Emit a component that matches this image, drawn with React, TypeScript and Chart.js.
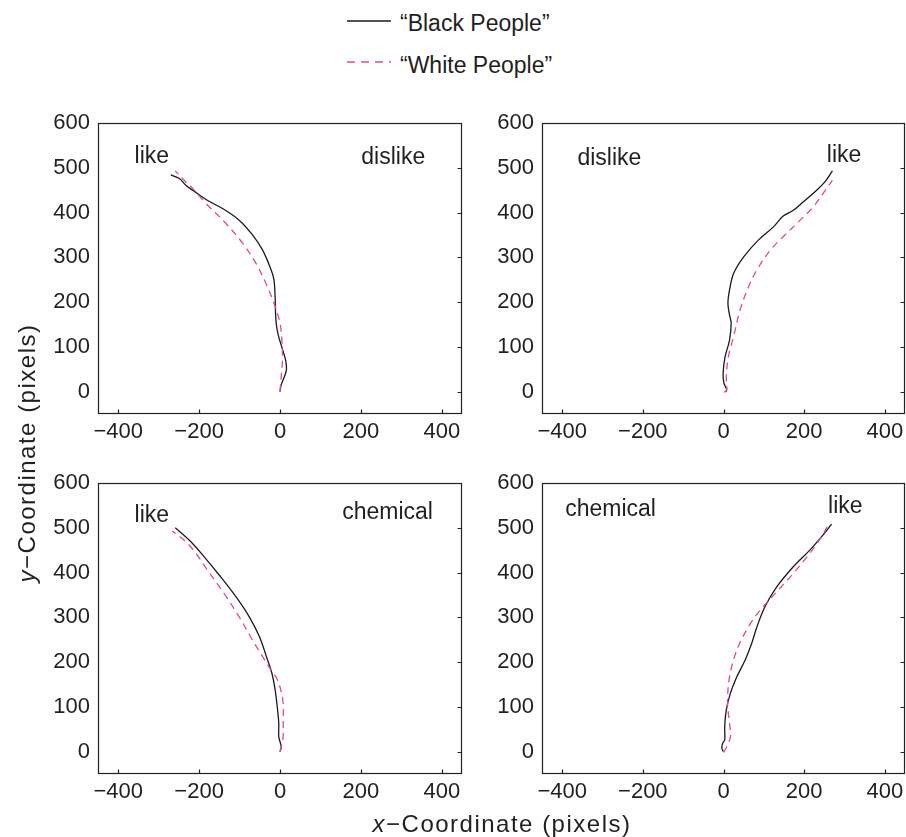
import React, { useEffect, useRef } from "react";
import { Chart, registerables } from "chart.js";

Chart.register(...registerables);

const FONT = '"Liberation Sans", Arial, Helvetica, sans-serif';
const TEXT = "#231f20";
const BLACK_LINE = "#1a1a1a";
const PINK_LINE = "#e2489c";

const seriesNames = ["\u201cBlack People\u201d", "\u201cWhite People\u201d"];
const xTickValues = [-400, -200, 0, 200, 400];
const yTickValues = [0, 100, 200, 300, 400, 500, 600];
const xRange = [-450, 450];
const yRange = [-50, 600];

// Panel 1: like (left) / dislike (right)
const p1BlackX = [0, 3, 12, 16, 14, 6, -4, -9, -11, -12, -15, -22, -43, -68, -101, -142, -183, -216, -233, -249, -270];
const p1BlackY = [0, 15, 36, 50, 70, 95, 125, 150, 175, 210, 250, 272, 316, 350, 383, 409, 429, 450, 461, 476, 484];
const p1WhiteX = [0, 3, 6, 5, 0, -12, -31, -59, -92, -134, -183, -216, -237, -259];
const p1WhiteY = [0, 33, 70, 110, 153, 190, 234, 286, 331, 376, 420, 454, 472, 493];

// Panel 2: dislike (left) / like (right)
const p2BlackX = [6, 8, 1, -1, 4, 15, 19, 15, 11, 15, 25, 50, 87, 124, 148, 173, 198, 231, 252, 270];
const p2BlackY = [0, 5, 19, 41, 78, 115, 153, 171, 197, 227, 264, 301, 339, 368, 392, 405, 424, 450, 469, 493];
const p2WhiteX = [2, 8, 7, 12, 25, 41, 62, 83, 116, 148, 190, 223, 247, 270];
const p2WhiteY = [-2, 5, 33, 78, 123, 182, 234, 272, 316, 346, 383, 413, 443, 472];

// Panel 3: like (left) / chemical (right)
const p3BlackX = [0, 3, -3, -3, -6, -12, -20, -32, -51, -76, -109, -150, -191, -224, -259];
const p3BlackY = [0, 11, 33, 63, 93, 138, 175, 208, 257, 301, 346, 394, 439, 472, 500];
const p3WhiteX = [0, 7, 8, 7, -6, -22, -43, -68, -101, -138, -179, -208, -233, -266];
const p3WhiteY = [0, 26, 63, 115, 160, 182, 212, 249, 301, 353, 405, 443, 469, 493];

// Panel 4: chemical (left) / like (right)
const p4BlackX = [0, -4, -2, 3, 3, 7, 17, 33, 54, 70, 83, 103, 132, 173, 214, 247, 268];
const p4BlackY = [0, 7, 19, 26, 56, 93, 130, 167, 205, 242, 279, 324, 368, 413, 450, 484, 508];
const p4WhiteX = [0, 8, 17, 15, 10, 15, 33, 62, 91, 132, 173, 214, 243, 262];
const p4WhiteY = [-2, 11, 33, 63, 108, 167, 227, 279, 316, 357, 398, 443, 480, 510];

const panelWords = [
  ["like", "dislike"],
  ["dislike", "like"],
  ["like", "chemical"],
  ["chemical", "like"],
];
const wordX = [
  [-317, 280],
  [-283, 299],
  [-317, 266],
  [-280, 302],
];
const wordY = [
  [524, 522],
  [521, 528],
  [528, 533],
  [541, 548],
];

const panelSeries = [
  [p1BlackX, p1BlackY, p1WhiteX, p1WhiteY],
  [p2BlackX, p2BlackY, p2WhiteX, p2WhiteY],
  [p3BlackX, p3BlackY, p3WhiteX, p3WhiteY],
  [p4BlackX, p4BlackY, p4WhiteX, p4WhiteY],
];

const Y_AXIS_W = 60;
const X_AXIS_H = 40;
const PAD_TOP = 24;
const PLOT_H = 291;

const panelBoxes = [
  { left: 38, top: 123 - PAD_TOP, plotW: 364, padRight: 10 },
  { left: 482, top: 123 - PAD_TOP, plotW: 363, padRight: 6 },
  { left: 38, top: 483 - PAD_TOP, plotW: 364, padRight: 10 },
  { left: 482, top: 483 - PAD_TOP, plotW: 363, padRight: 6 },
];

const toPoints = (xs: number[], ys: number[]) => xs.map((x, i) => ({ x, y: ys[i] }));

function Panel({ index }: { index: number }) {
  const ref = useRef<HTMLCanvasElement | null>(null);
  const box = panelBoxes[index];
  const width = Y_AXIS_W + box.plotW + box.padRight;
  const height = PAD_TOP + PLOT_H + X_AXIS_H;

  useEffect(() => {
    if (!ref.current) return;
    const [bx, by, wx, wy] = panelSeries[index];
    const framePlugin = {
      id: "frame" + index,
      afterDraw(chart: any) {
        const { ctx, chartArea, scales } = chart;
        const l = Math.round(chartArea.left) + 0.5;
        const r = Math.round(chartArea.right) - 0.5;
        const t = Math.round(chartArea.top) + 0.5;
        const b = Math.round(chartArea.bottom) - 0.5;
        ctx.save();
        ctx.strokeStyle = "#222";
        ctx.lineWidth = 1.2;
        ctx.strokeRect(l, t, r - l, b - t);
        ctx.beginPath();
        scales.x.ticks.forEach((tk: any) => {
          const px = Math.round(scales.x.getPixelForValue(tk.value)) + 0.5;
          ctx.moveTo(px, b);
          ctx.lineTo(px, b - 4);
        });
        scales.y.ticks.forEach((tk: any) => {
          const py = Math.round(scales.y.getPixelForValue(tk.value)) + 0.5;
          ctx.moveTo(r, py);
          ctx.lineTo(r - 4, py);
        });
        ctx.stroke();
        ctx.fillStyle = TEXT;
        ctx.font = "23px " + FONT;
        ctx.textAlign = "center";
        ctx.textBaseline = "middle";
        panelWords[index].forEach((w, k) => {
          ctx.fillText(
            w,
            scales.x.getPixelForValue(wordX[index][k]),
            scales.y.getPixelForValue(wordY[index][k])
          );
        });
        ctx.restore();
      },
    };
    const chart = new Chart(ref.current, {
      type: "scatter",
      data: {
        datasets: [
          {
            label: seriesNames[1],
            data: toPoints(wx, wy),
            showLine: true,
            borderColor: PINK_LINE,
            borderWidth: 1.3,
            borderDash: [7, 5],
            pointRadius: 0,
            tension: 0.35,
            fill: false,
          },
          {
            label: seriesNames[0],
            data: toPoints(bx, by),
            showLine: true,
            borderColor: BLACK_LINE,
            borderWidth: 1.3,
            pointRadius: 0,
            tension: 0.35,
            fill: false,
          },
        ],
      },
      options: {
        responsive: false,
        animation: false,
        devicePixelRatio: 1,
        layout: { padding: { top: PAD_TOP, right: box.padRight, left: 0, bottom: 0 } },
        plugins: { legend: { display: false }, tooltip: { enabled: false } },
        scales: {
          x: {
            type: "linear",
            min: xRange[0],
            max: xRange[1],
            grid: { display: false, drawTicks: false },
            border: { display: false },
            afterBuildTicks: (axis: any) => {
              axis.ticks = xTickValues.map((v) => ({ value: v }));
            },
            afterFit: (axis: any) => {
              axis.height = X_AXIS_H;
            },
            ticks: {
              autoSkip: false,
              maxRotation: 0,
              padding: 5,
              color: TEXT,
              font: { family: FONT, size: 22 },
              callback: (v: any) => String(v).replace("-", "\u2212"),
            },
          },
          y: {
            type: "linear",
            min: yRange[0],
            max: yRange[1],
            grid: { display: false, drawTicks: false },
            border: { display: false },
            afterBuildTicks: (axis: any) => {
              axis.ticks = yTickValues.map((v) => ({ value: v }));
            },
            afterFit: (axis: any) => {
              axis.width = Y_AXIS_W;
            },
            ticks: {
              autoSkip: false,
              padding: 8,
              color: TEXT,
              font: { family: FONT, size: 22 },
              callback: (v: any) => String(v).replace("-", "\u2212"),
            },
          },
        },
      },
      plugins: [framePlugin],
    } as any);
    return () => chart.destroy();
  }, [index]);

  return (
    <canvas
      ref={ref}
      width={width}
      height={height}
      style={{ position: "absolute", left: box.left, top: box.top, width, height }}
    />
  );
}

export default function App() {
  const titleStyle: React.CSSProperties = {
    position: "absolute",
    fontSize: 24,
    lineHeight: "24px",
    letterSpacing: "1.5px",
    whiteSpace: "nowrap",
    textAlign: "center",
    width: 400,
  };
  return (
    <div
      style={{
        position: "absolute",
        left: 0,
        top: 0,
        width: 906,
        height: 837,
        background: "#fff",
        fontFamily: FONT,
        color: TEXT,
        overflow: "hidden",
      }}
    >
      <svg style={{ position: "absolute", left: 346, top: 10 }} width={46} height={60}>
        <line x1={1} y1={11} x2={45} y2={11} stroke={BLACK_LINE} strokeWidth={1.3} />
        <line x1={1} y1={52} x2={45} y2={52} stroke={PINK_LINE} strokeWidth={1.3} strokeDasharray="8 6" />
      </svg>
      <div style={{ position: "absolute", left: 400, top: 11.5, fontSize: 23, lineHeight: "23px", whiteSpace: "nowrap" }}>
        {seriesNames[0]}
      </div>
      <div style={{ position: "absolute", left: 400, top: 53.5, fontSize: 23, lineHeight: "23px", whiteSpace: "nowrap" }}>
        {seriesNames[1]}
      </div>
      {[0, 1, 2, 3].map((i) => (
        <Panel key={i} index={i} />
      ))}
      <div style={{ ...titleStyle, left: 502 - 200, top: 824 - 12 }}>
        <i>x</i>{"\u2212Coordinate (pixels)"}
      </div>
      <div
        style={{
          ...titleStyle,
          left: 27 - 200,
          top: 453 - 12,
          transform: "rotate(-90deg)",
          transformOrigin: "50% 50%",
        }}
      >
        <i>y</i>{"\u2212Coordinate (pixels)"}
      </div>
    </div>
  );
}
